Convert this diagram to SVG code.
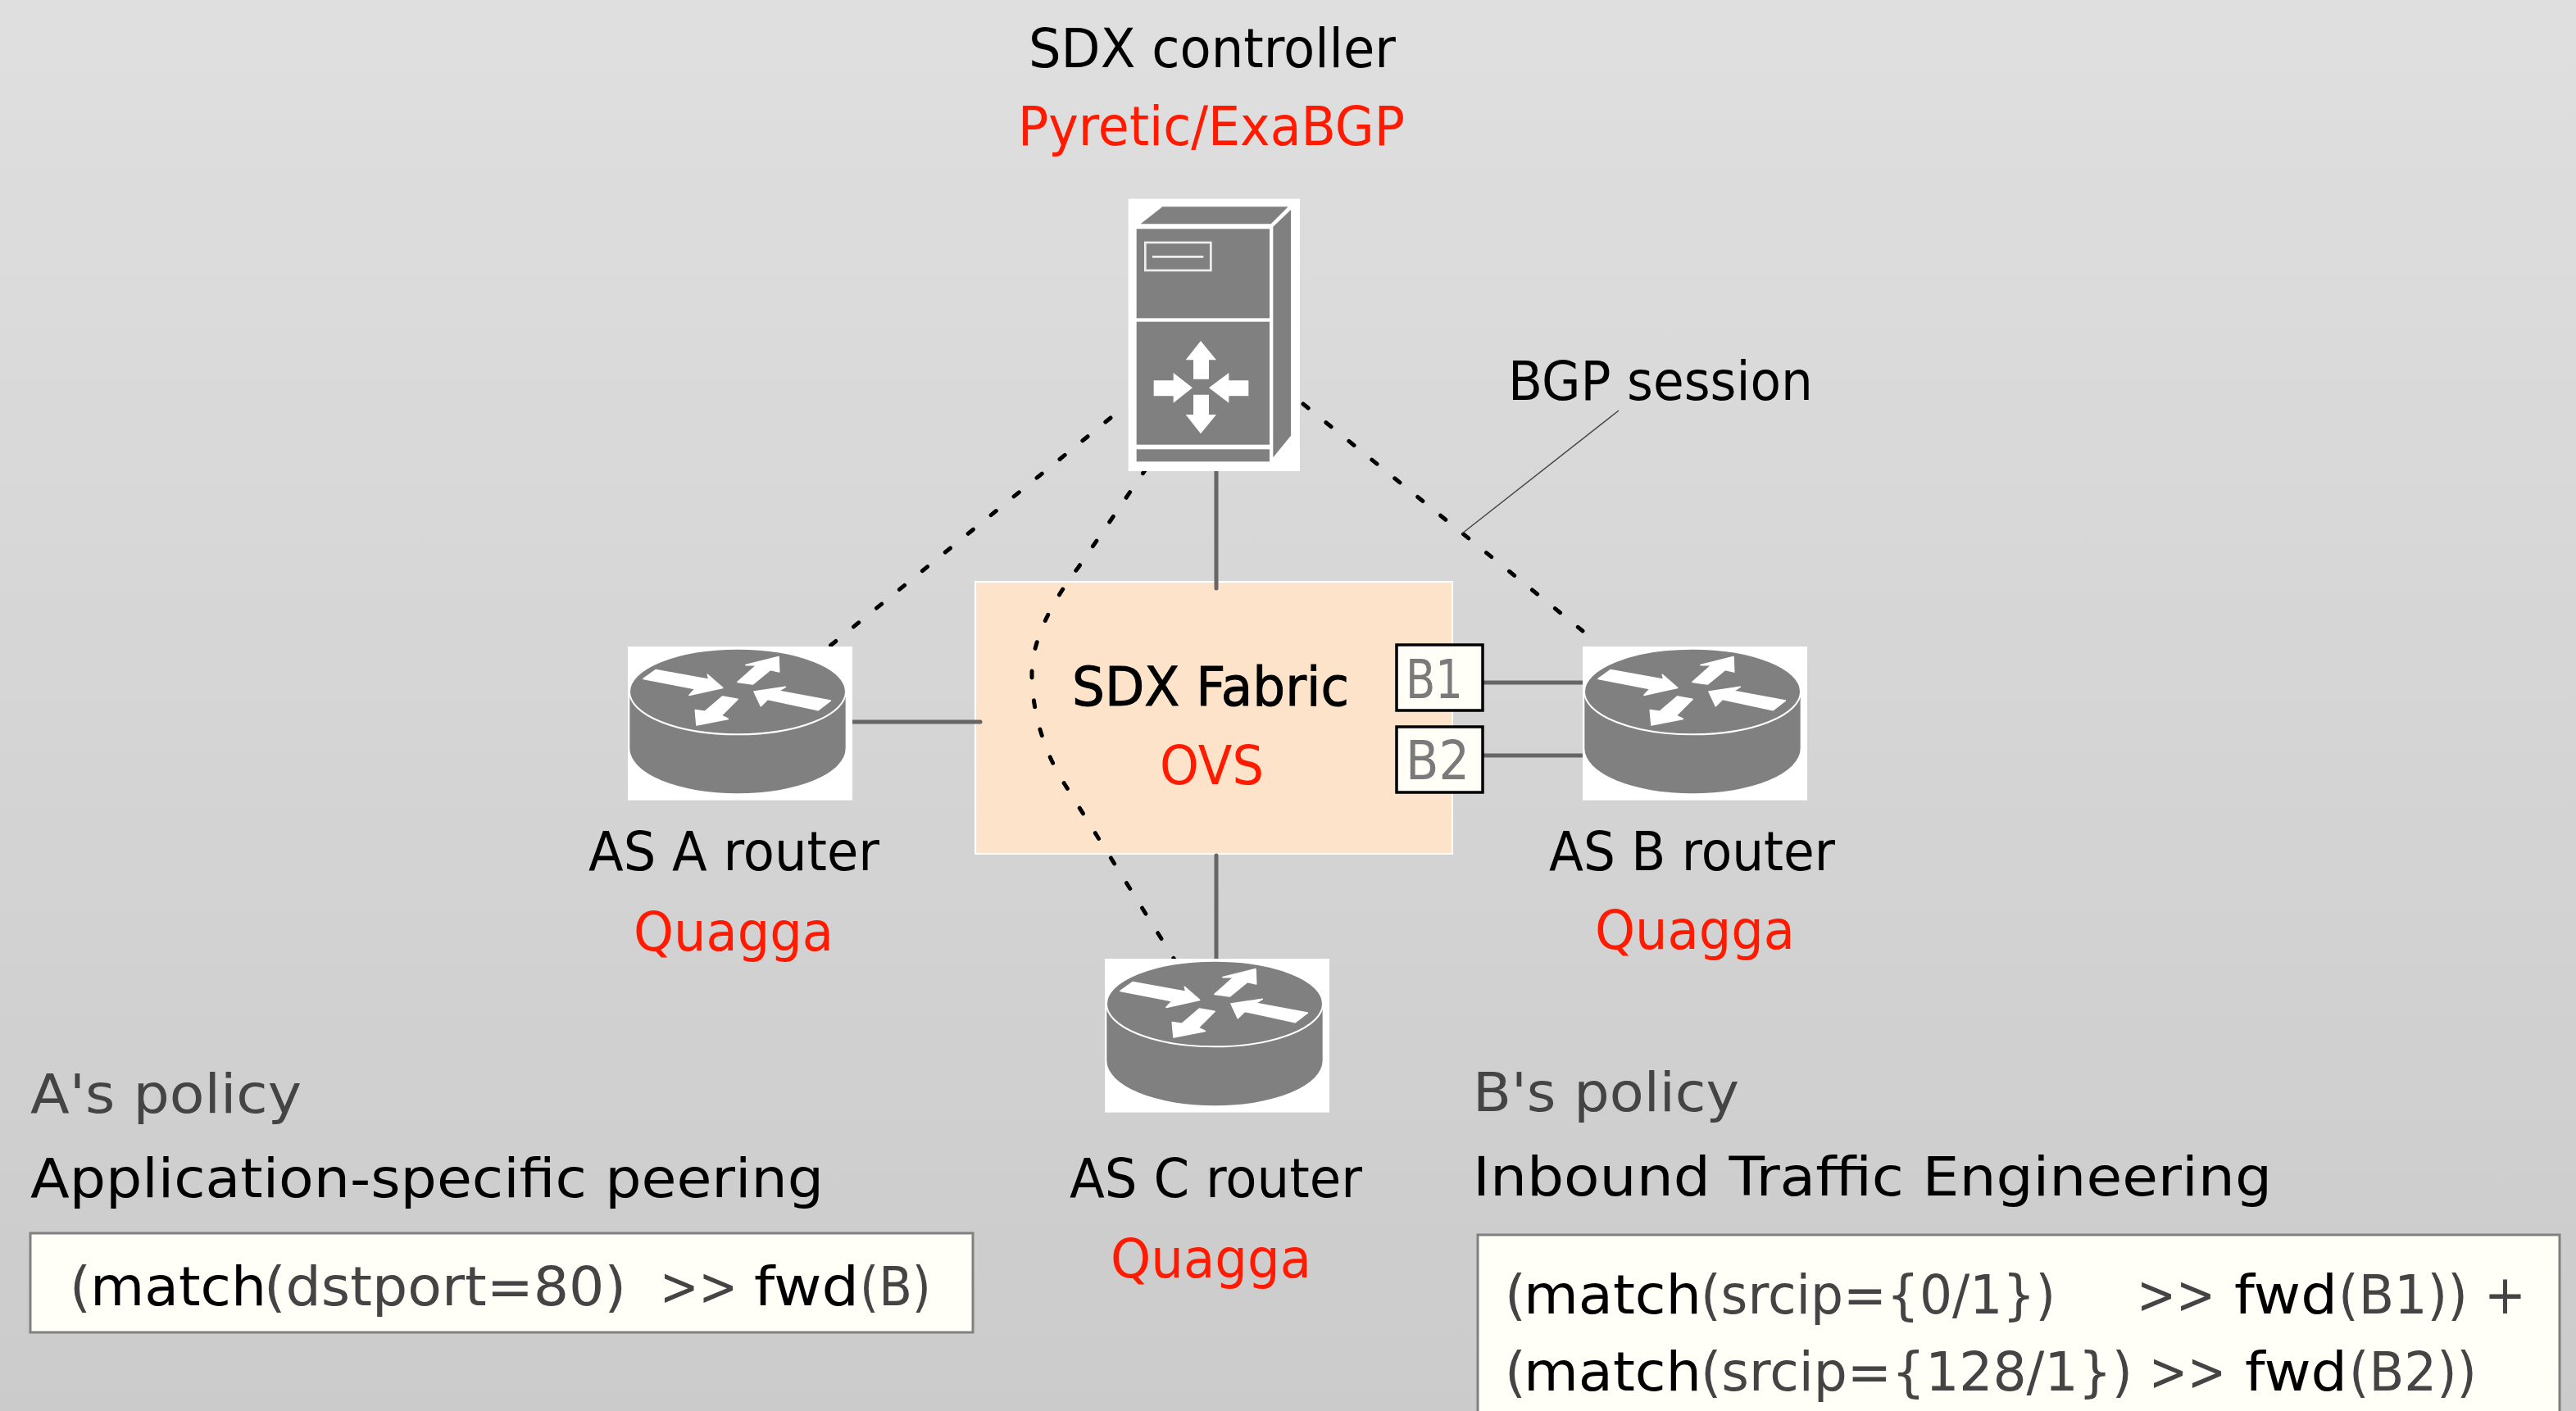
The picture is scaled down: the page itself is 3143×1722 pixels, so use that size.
<svg xmlns="http://www.w3.org/2000/svg" width="3143" height="1722" viewBox="0 0 3143 1722">
<style>
text{font-family:"DejaVu Sans","Liberation Sans",sans-serif;font-size:66px;fill:#000;white-space:pre}
.r{fill:#ff1a00}
.g{fill:#444}
tspan.k{fill:#000}
.port{fill:#7a7a7a}
.ic{fill:#808080}
.wh{fill:#fff}
.ar{fill:#fff;stroke:#fff;stroke-width:5;stroke-linejoin:round}
.dot{fill:none;stroke:#000;stroke-width:5;stroke-linecap:round;stroke-dasharray:8 28}
.sol{fill:none;stroke:#666;stroke-width:5;stroke-linecap:round}
.pol{fill:#fffff8;stroke:#808080;stroke-width:3}
.pb{fill:#fffff8;stroke:#000;stroke-width:3.5}
</style>
<defs>
<linearGradient id="bg" x1="0" y1="0" x2="0" y2="1"><stop offset="0" stop-color="#dfdfdf"/><stop offset="1" stop-color="#cbcbcb"/></linearGradient>
<g id="router" transform="scale(.33333) translate(-78 -57)">
<rect class="wh" x="78" y="57" width="822" height="563"/>
<path class="ic" d="M85,215V430A395,165 0 0 0 875,430V215Z"/>
<ellipse class="ic" cx="480" cy="222" rx="396" ry="157" stroke="#fff" stroke-width="6"/>
<path class="ar" d="M135,175L180,143L375,178L370,160L425,208L303,235L325,212Z"/>
<path class="ar" d="M480,187L550,125L510,125L630,95L632,150L600,142L535,195Z"/>
<path class="ar" d="M820,255L775,290L590,250L565,275L540,222L655,205L630,220Z"/>
<path class="ar" d="M480,250L420,310L445,322L330,345L325,290L360,295L425,240Z"/>
</g>
</defs>
<rect id="background" width="3143" height="1722" fill="url(#bg)"/>
<g id="fabric">
<rect x="1190" y="710" width="582" height="332" fill="#fde3ca" stroke="#fff" stroke-width="2"/>
<text x="1308" y="861" textLength="338" lengthAdjust="spacingAndGlyphs" stroke="#000" stroke-width="1">SDX Fabric</text>
<text class="r" x="1415" y="957" textLength="127" lengthAdjust="spacingAndGlyphs">OVS</text>
</g>
<g id="connectors">
<path class="sol" d="M1484,570V718"/>
<path class="sol" d="M1484,1044V1173"/>
<path class="sol" d="M1035,881H1196"/>
<path class="sol" d="M1809,833H1933"/>
<path class="sol" d="M1809,922H1933"/>
<path class="dot" d="M1355,510L1013,788"/>
<path class="dot" d="M1590,493L1931,770"/>
<path class="dot" d="M1399,571L1316,692C1285,732 1259,780 1259,822C1259,870 1275,920 1299,957L1436,1176"/>
<path fill="none" stroke="#444" stroke-width="1.5" d="M1975,501L1784,651"/>
</g>
<g id="server">
<g transform="translate(1340,220) scale(.33333)">
<rect class="wh" x="110" y="68" width="628" height="997"/>
<path class="ic" d="M155,160L235,97H695L632,160Z"/>
<path class="ic" d="M640,170L705,108V935L640,1015Z"/>
<rect class="ic" x="140" y="178" width="487" height="327"/>
<rect class="ic" x="140" y="518" width="487" height="450"/>
<rect class="ic" x="140" y="985" width="487" height="45"/>
<rect x="172" y="228" width="240" height="102" fill="none" stroke="#eee" stroke-width="8"/>
<path d="M198,280H385" stroke="#eee" stroke-width="8"/>
<path class="wh" d="M375,588L432,658H405V728H348V658H320Z"/>
<path class="wh" d="M375,928L432,858H405V785H348V858H320Z"/>
<path class="wh" d="M345,760L275,705V733H203V790H275V815Z"/>
<path class="wh" d="M405,760L478,705V733H550V790H478V815Z"/>
</g>
<text x="1255" y="82" textLength="448" lengthAdjust="spacingAndGlyphs">SDX controller</text>
<text class="r" x="1242" y="177" textLength="472" lengthAdjust="spacingAndGlyphs">Pyretic/ExaBGP</text>
</g>
<g id="bgp-label">
<text x="1840" y="488" textLength="372" lengthAdjust="spacingAndGlyphs">BGP session</text>
</g>
<g id="router-a">
<use href="#router" x="766" y="789"/>
<text x="718" y="1062" textLength="355" lengthAdjust="spacingAndGlyphs">AS A router</text>
<text class="r" x="773" y="1160" textLength="244" lengthAdjust="spacingAndGlyphs">Quagga</text>
</g>
<g id="router-b">
<use href="#router" x="1931" y="789"/>
<text x="1890" y="1062" textLength="349" lengthAdjust="spacingAndGlyphs">AS B router</text>
<text class="r" x="1946" y="1158" textLength="244" lengthAdjust="spacingAndGlyphs">Quagga</text>
</g>
<g id="router-c">
<use href="#router" x="1348" y="1170"/>
<text x="1305" y="1461" textLength="357" lengthAdjust="spacingAndGlyphs">AS C router</text>
<text class="r" x="1355" y="1559" textLength="245" lengthAdjust="spacingAndGlyphs">Quagga</text>
</g>
<g id="port-b1">
<rect class="pb" x="1704" y="787" width="105" height="80"/>
<text class="port" x="1715" y="852" textLength="70" lengthAdjust="spacingAndGlyphs">B1</text>
</g>
<g id="port-b2">
<rect class="pb" x="1704" y="887" width="105" height="80"/>
<text class="port" x="1715" y="951" textLength="78" lengthAdjust="spacingAndGlyphs">B2</text>
</g>
<g id="policy-a">
<text class="g" x="37" y="1358" textLength="331" lengthAdjust="spacingAndGlyphs">A's policy</text>
<text x="37" y="1461" textLength="968" lengthAdjust="spacingAndGlyphs">Application-specific peering</text>
<rect class="pol" x="37" y="1505" width="1150" height="121"/>
<text class="g" y="1593" xml:space="preserve"><tspan x="85">(</tspan><tspan class="k" x="110" textLength="215" lengthAdjust="spacingAndGlyphs">match</tspan><tspan x="322" textLength="442" lengthAdjust="spacingAndGlyphs">(dstport=80)</tspan>  <tspan x="805" textLength="95" lengthAdjust="spacingAndGlyphs">&gt;&gt;</tspan> <tspan class="k" x="920" textLength="128" lengthAdjust="spacingAndGlyphs">fwd</tspan><tspan x="1049" textLength="87" lengthAdjust="spacingAndGlyphs">(B)</tspan></text>
</g>
<g id="policy-b">
<text class="g" x="1797" y="1356" textLength="325" lengthAdjust="spacingAndGlyphs">B's policy</text>
<text x="1797" y="1459" textLength="975" lengthAdjust="spacingAndGlyphs">Inbound Traffic Engineering</text>
<rect class="pol" x="1803" y="1507" width="1320" height="230"/>
<text class="g" y="1603" xml:space="preserve"><tspan x="1836">(</tspan><tspan class="k" x="1859" textLength="217" lengthAdjust="spacingAndGlyphs">match</tspan><tspan x="2075" textLength="433" lengthAdjust="spacingAndGlyphs">(srcip={0/1})</tspan>    <tspan x="2607" textLength="96" lengthAdjust="spacingAndGlyphs">&gt;&gt;</tspan> <tspan class="k" x="2726" textLength="126" lengthAdjust="spacingAndGlyphs">fwd</tspan><tspan x="2853" textLength="158" lengthAdjust="spacingAndGlyphs">(B1))</tspan> <tspan x="3031" textLength="51" lengthAdjust="spacingAndGlyphs">+</tspan></text>
<text class="g" y="1697" xml:space="preserve"><tspan x="1836">(</tspan><tspan class="k" x="1859" textLength="217" lengthAdjust="spacingAndGlyphs">match</tspan><tspan x="2075" textLength="527" lengthAdjust="spacingAndGlyphs">(srcip={128/1})</tspan> <tspan x="2622" textLength="94" lengthAdjust="spacingAndGlyphs">&gt;&gt;</tspan> <tspan class="k" x="2739" textLength="125" lengthAdjust="spacingAndGlyphs">fwd</tspan><tspan x="2866" textLength="156" lengthAdjust="spacingAndGlyphs">(B2))</tspan></text>
</g>
</svg>
